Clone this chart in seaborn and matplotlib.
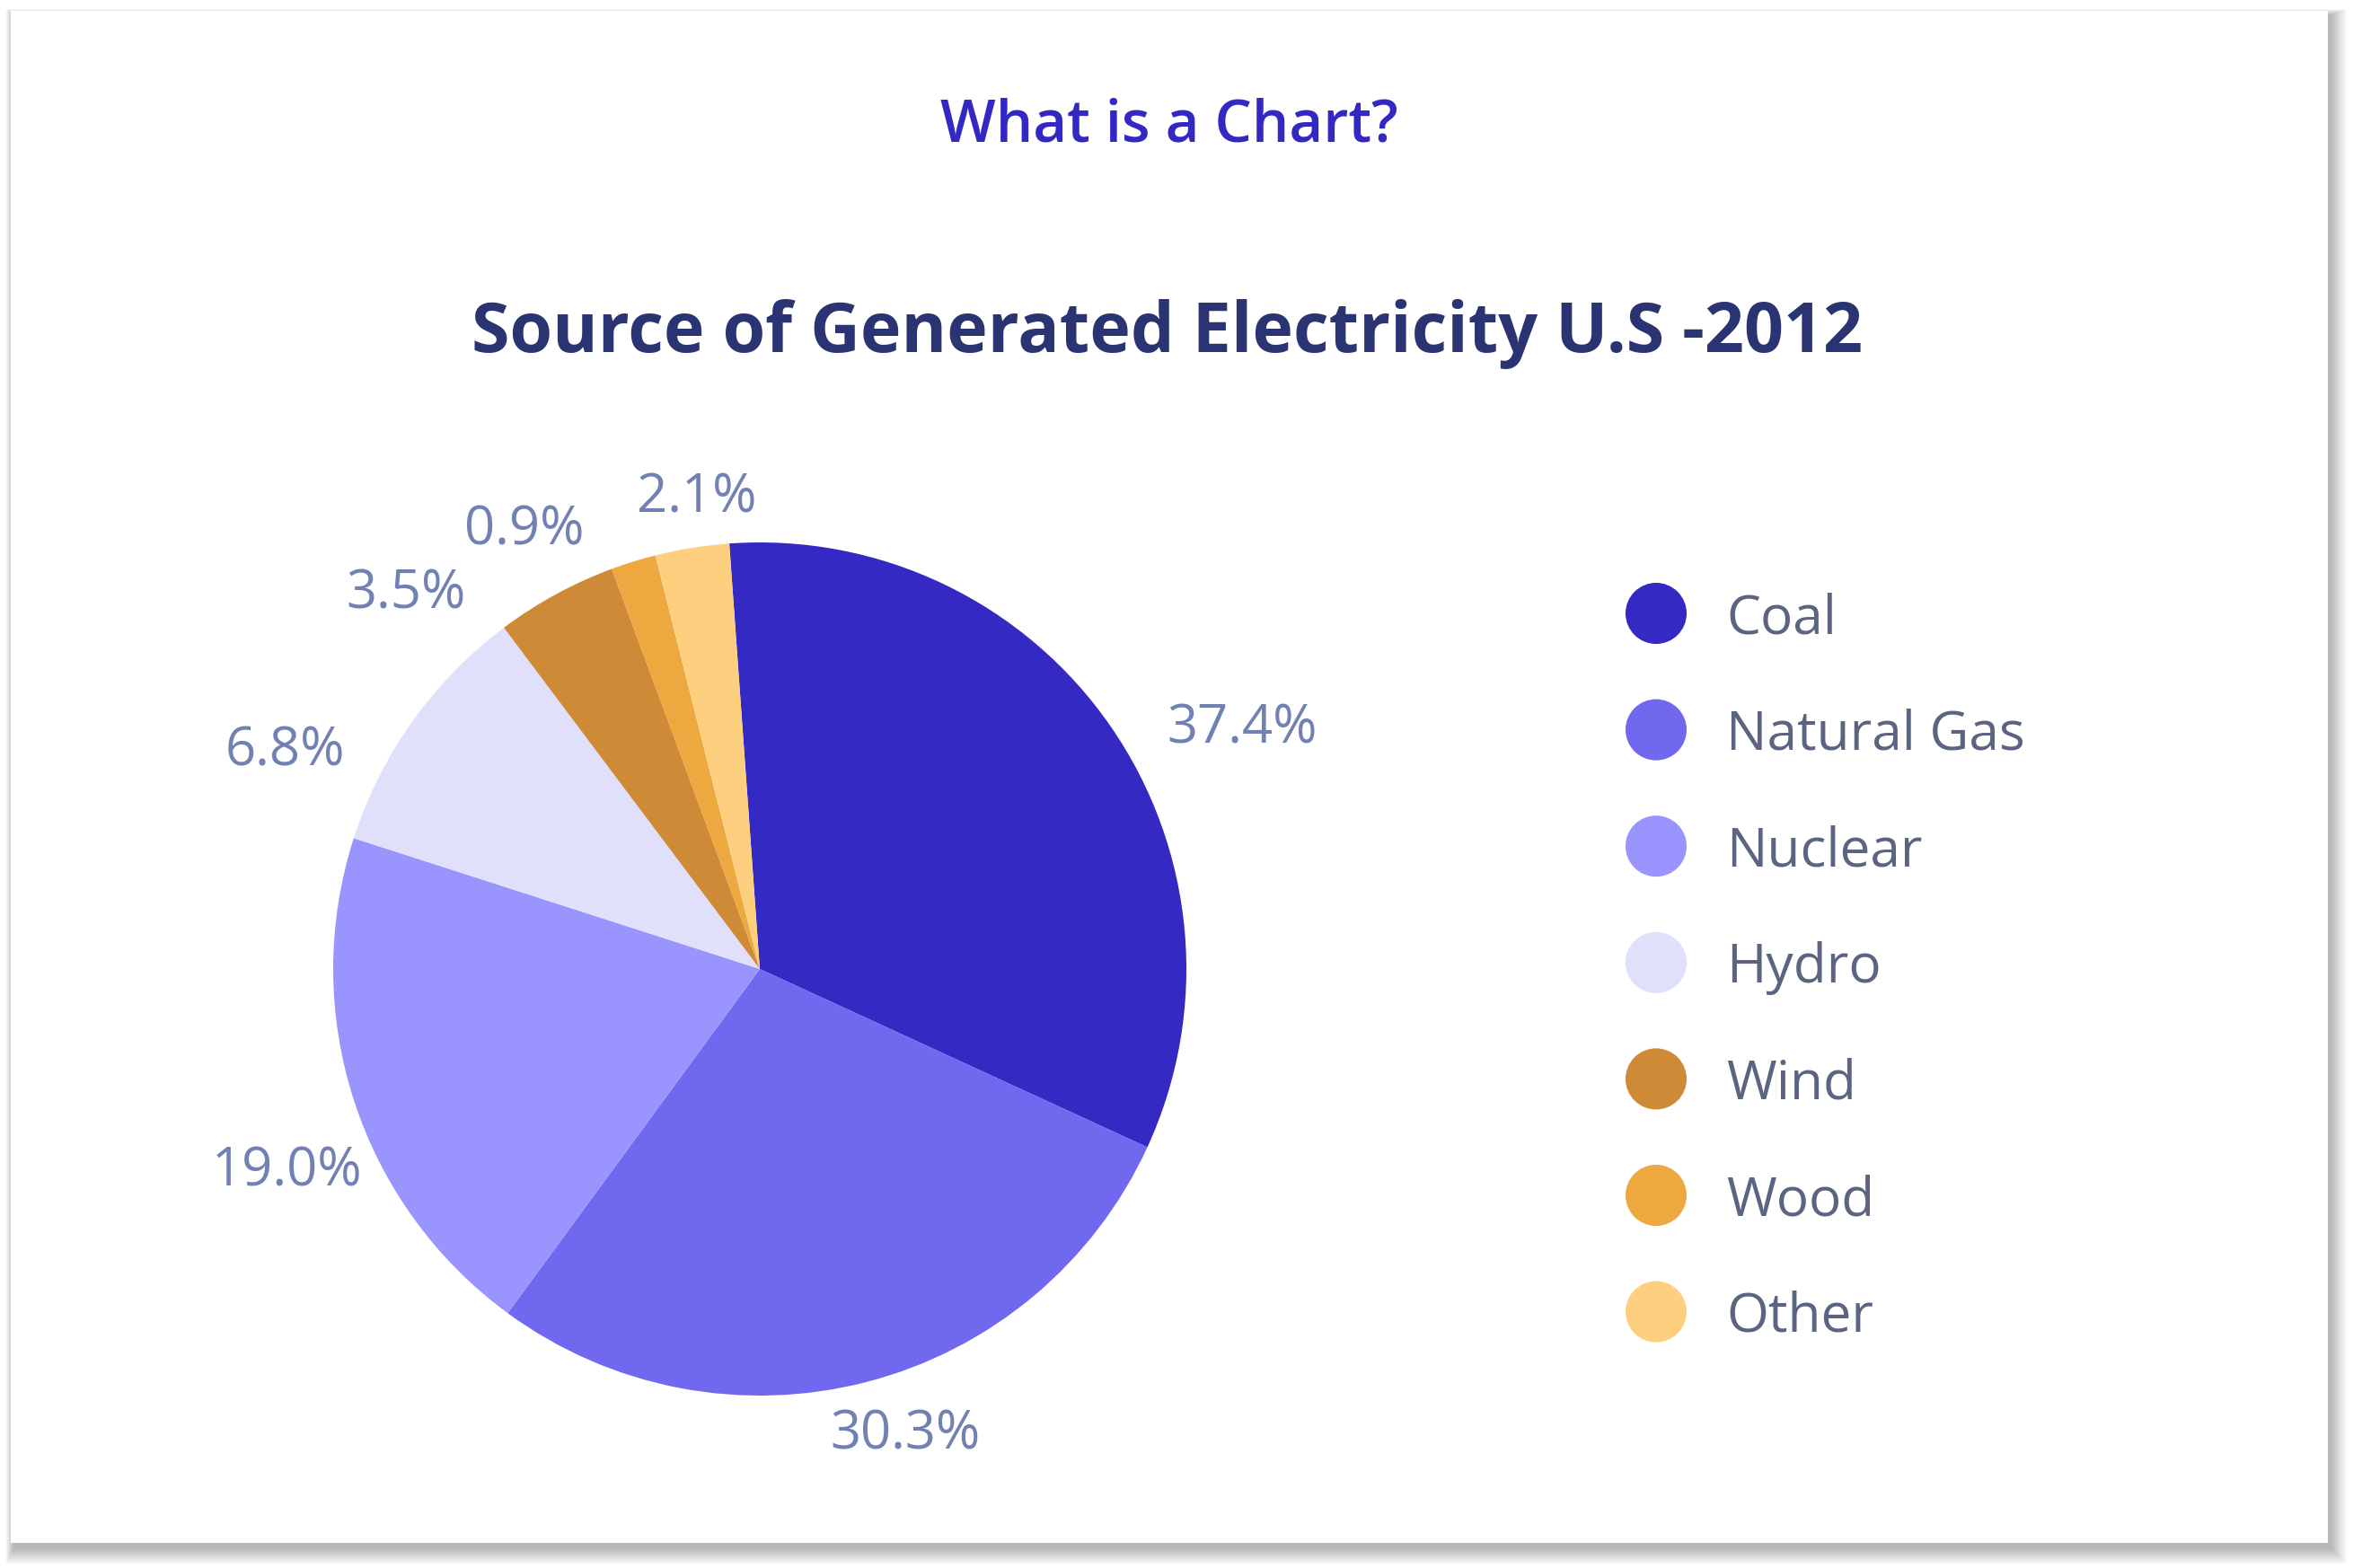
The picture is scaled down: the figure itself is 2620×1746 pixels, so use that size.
import numpy as np
import matplotlib.pyplot as plt
import matplotlib.patches as mpatches
import seaborn as sns

sources = ['Coal', 'Natural Gas', 'Nuclear', 'Hydro', 'Wind', 'Wood', 'Other']
# slice sizes as they are drawn in the picture
slice_share = [33.0, 28.2, 19.9, 9.8, 4.6, 1.7, 2.8]
# the percentages printed next to the slices
pct_labels = ['37.4%', '30.3%', '19.0%', '6.8%', '3.5%', '0.9%', '2.1%']
colors = ['#3429C2', '#7069F0', '#9A95FE', '#E1E0FB', '#CF8A37', '#EDA83F', '#FECF7E']

# label layout: angle shift from slice middle (deg) and distance (in radii)
label_shift = [-7.6, 3.0, 4.6, 10.2, 14.3, 10.6, -1.6]
label_dist = [1.27, 1.13, 1.20, 1.23, 1.22, 1.18, 1.13]

sns.set_theme(style='white')
plt.rcParams['font.family'] = ['Open Sans', 'DejaVu Sans']

W, H = 2620, 1746
fig = plt.figure(figsize=(W / 100, H / 100), dpi=100)
fig.patch.set_facecolor('white')


def px_box(x0, y0, x1, y1):
    # pixel box with top-left origin -> figure fraction rect
    return (x0 / W, 1 - y1 / H), (x1 - x0) / W, (y1 - y0) / H


# soft shadow behind the card
for i in range(18, 0, -1):
    xy, w, h = px_box(12 - i * 0.5 + 3, 12 - i * 0.4 + 5, 2592 + i + 3, 1718 + i + 6)
    fig.patches.append(mpatches.Rectangle(xy, w, h, transform=fig.transFigure,
                                          facecolor='black', alpha=0.014, lw=0, zorder=0))
xy, w, h = px_box(12, 12, 2592, 1718)
fig.patches.append(mpatches.Rectangle(xy, w, h, transform=fig.transFigure,
                                      facecolor='white', lw=0, zorder=1))

fig.text(1302 / W, 1 - 158 / H, 'What is a Chart?', ha='center', va='baseline',
         fontsize=47, color='#3328C4', weight='semibold', zorder=3)
fig.text(1300 / W, 1 - 392 / H, 'Source of Generated Electricity U.S -2012', ha='center',
         va='baseline', fontsize=55.5, color='#2B3473', weight='bold', zorder=3)

# pie
R = 475
cx, cy = 846, 1079
half = 1.4 * R
ax = fig.add_axes([(cx - half) / W, (H - cy - half) / H, 2 * half / W, 2 * half / H])
ax.set_zorder(2)
ax.patch.set_alpha(0)
wedges, _ = ax.pie(slice_share, colors=sns.color_palette(colors), startangle=94.1,
                   counterclock=False, radius=1, wedgeprops=dict(linewidth=0))
ax.set_xlim(-1.4, 1.4)
ax.set_ylim(-1.4, 1.4)
ax.axis('off')

for wdg, lab, sh, d in zip(wedges, pct_labels, label_shift, label_dist):
    ang = np.deg2rad((wdg.theta1 + wdg.theta2) / 2 + sh)
    ax.text(d * np.cos(ang), d * np.sin(ang) - 0.015, lab, ha='center', va='center',
            fontsize=43, color='#7181B3')

# legend drawn as its own little scatter
step = 129.6
top = 683 - step / 2
lax = fig.add_axes([1780 / W, (H - (top + 7 * step)) / H, 620 / W, 7 * step / H])
lax.set_zorder(2)
lax.patch.set_alpha(0)
sns.scatterplot(x=[0] * len(sources), y=list(range(len(sources))), hue=sources,
                palette=colors, s=49 ** 2, linewidth=0, legend=False, ax=lax)
for i, name in enumerate(sources):
    lax.text(78, i + 0.17, name, ha='left', va='baseline', fontsize=43.5, color='#5B6581')
lax.set_xlim(-64, 556)
lax.set_ylim(6.5, -0.5)
lax.axis('off')

fig.savefig('out.png', dpi=100)
